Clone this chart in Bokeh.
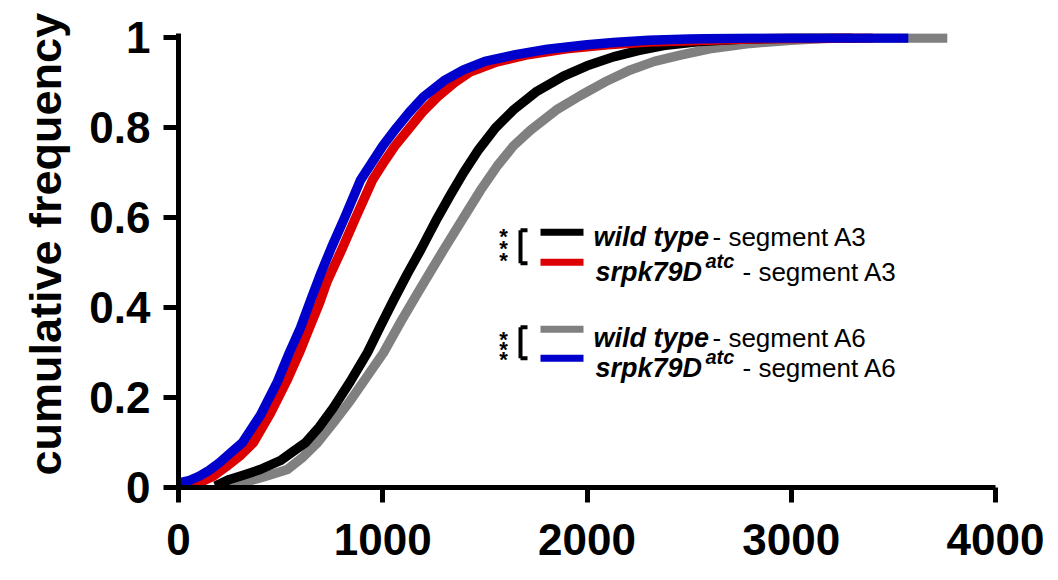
from bokeh.plotting import figure
from bokeh.models import Range1d, FixedTicker, Title
from bokeh.core.properties import value
from bokeh.embed import file_html
from bokeh.resources import INLINE

# ---------------- data ----------------
wt_a3_x = [180, 250, 320, 400, 499, 560, 622, 690, 759, 840, 925, 990, 1052, 1120, 1185, 1268, 1330, 1395,
           1470, 1552, 1640, 1750, 1885, 2000, 2129, 2250, 2374, 2550, 2750, 3000, 3300]
wt_a3_y = [0.003, 0.018, 0.028, 0.04, 0.06, 0.08, 0.10, 0.135, 0.178, 0.235, 0.30, 0.36, 0.416, 0.475, 0.528, 0.60,
           0.65, 0.70, 0.752, 0.80, 0.84, 0.88, 0.915, 0.938, 0.958, 0.972, 0.983, 0.992, 0.997, 1.0, 1.0]

mut_a3_x = [0, 50, 108, 170, 230, 300, 367, 450, 533, 592, 636, 690, 729, 800, 867, 950, 1000, 1060, 1131, 1200,
            1268, 1350, 1430, 1560, 1700, 1900, 2100, 2300, 2800, 3400]
mut_a3_y = [0.003, 0.005, 0.012, 0.025, 0.045, 0.07, 0.10, 0.165, 0.24, 0.30, 0.35, 0.41, 0.46, 0.53, 0.60, 0.684,
            0.72, 0.76, 0.80, 0.838, 0.869, 0.90, 0.925, 0.947, 0.962, 0.976, 0.985, 0.991, 0.998, 1.0]

wt_a6_x = [250, 289, 350, 420, 533, 610, 681, 760, 842, 920, 1004, 1090, 1170, 1240, 1297, 1395, 1478, 1560, 1640,
           1723, 1850, 1968, 2100, 2212, 2330, 2457, 2600, 2800, 3000, 3200, 3764]
wt_a6_y = [0.0, 0.008, 0.015, 0.024, 0.04, 0.068, 0.10, 0.145, 0.194, 0.245, 0.30, 0.37, 0.432, 0.485, 0.528, 0.60,
           0.661, 0.715, 0.76, 0.795, 0.84, 0.872, 0.905, 0.929, 0.948, 0.962, 0.976, 0.988, 0.995, 1.0, 1.0]

mut_a6_x = [0, 50, 100, 150, 200, 250, 313, 400, 484, 543, 597, 650, 700, 750, 813, 891, 950, 1000, 1067, 1130,
            1199, 1300, 1395, 1500, 1650, 1806, 2000, 2129, 2300, 2500, 2800, 3573]
mut_a6_y = [0.01, 0.015, 0.025, 0.038, 0.055, 0.075, 0.10, 0.16, 0.235, 0.30, 0.355, 0.42, 0.48, 0.535, 0.60, 0.684,
            0.725, 0.76, 0.80, 0.835, 0.869, 0.905, 0.929, 0.948, 0.963, 0.975, 0.985, 0.99, 0.995, 0.998, 1.0, 1.0]

x_ticks = [0, 1000, 2000, 3000, 4000]
y_ticks = [0, 0.2, 0.4, 0.6, 0.8, 1]
y_tick_labels = ["0", "0.2", "0.4", "0.6", "0.8", "1"]
y_title = "cumulative frequency"

BLACK = "#000000"
RED = "#DD0000"
GRAY = "#808080"
BLUE = "#0000CC"
FONT = "Liberation Sans"

p = figure(width=1050, height=572, output_backend="svg", toolbar_location=None,
           x_range=Range1d(0, 4000), y_range=Range1d(0, 1.01),
           min_border_left=178, min_border_right=55, min_border_top=33, min_border_bottom=85)
p.outline_line_color = None
p.grid.visible = False
p.background_fill_color = "white"

# curves: gray, black, red, blue (blue on top)
for xs, ys, c in [(wt_a6_x, wt_a6_y, GRAY), (wt_a3_x, wt_a3_y, BLACK),
                  (mut_a3_x, mut_a3_y, RED), (mut_a6_x, mut_a6_y, BLUE)]:
    p.line(xs, ys, line_color=c, line_width=9.5, line_join="round")

# axes
for ax in (p.xaxis[0], p.yaxis[0]):
    ax.axis_line_width = 5
    ax.major_tick_line_width = 5
    ax.major_tick_out = 15
    ax.major_tick_in = 0
    ax.minor_tick_out = 0
    ax.minor_tick_in = 0
    ax.major_label_text_font = FONT
    ax.major_label_text_font_style = "bold"
    ax.major_label_text_font_size = "44px"
    ax.major_label_text_color = "black"

p.xaxis[0].ticker = FixedTicker(ticks=x_ticks)
p.xaxis[0].major_label_standoff = 21
p.yaxis[0].ticker = FixedTicker(ticks=y_ticks)
p.yaxis[0].major_label_overrides = {t: l for t, l in zip(y_ticks, y_tick_labels)}
p.yaxis[0].major_label_standoff = 13

p.add_layout(Title(text=y_title, align="left", offset=12, standoff=32,
                   text_font=FONT, text_font_style="bold", text_font_size="45px",
                   text_color="black"), "left")


# ---------------- legend layout positions in image pixels ----------------
def dx(px):
    return (px - 178) / 0.20425

def dy(py):
    return (487 - py) / 449.0


rows = [
    (232, 237, "wild type", BLACK, 593, 712),
    (262, 272, "srpk79D", RED, 595, 742),
    (329, 338, "wild type", GRAY, 593, 712),
    (358, 368, "srpk79D", BLUE, 595, 742),
]
suffixes = ["- segment A3", "- segment A3", "- segment A6", "- segment A6"]

p.segment(x0=[dx(540)] * 4, x1=[dx(583)] * 4, y0=[dy(r[0]) for r in rows], y1=[dy(r[0]) for r in rows],
          line_color=[r[3] for r in rows], line_width=7)

p.text(x=[dx(r[4]) for r in rows], y=[dy(r[1]) for r in rows], text=[r[2] for r in rows],
       text_font=value(FONT), text_font_size="27px", text_font_style="bold italic",
       text_color="black", text_baseline="alphabetic", text_align="left")
p.text(x=[dx(705), dx(705)], y=[dy(261), dy(357)], text=["atc", "atc"],
       text_font=value(FONT), text_font_size="20px", text_font_style="bold italic",
       text_color="black", text_baseline="alphabetic", text_align="left")
p.text(x=[dx(r[5]) for r in rows], y=[dy(r[1]) for r in rows], text=suffixes,
       text_font=value(FONT), text_font_size="26px", text_font_style="normal",
       text_color="black", text_baseline="alphabetic", text_align="left")

# significance stars and brackets
star_centers = [232, 244, 256, 335, 345, 355]
p.text(x=[dx(503)] * 6, y=[dy(c + 4) for c in star_centers], text=["*"] * 6,
       text_font=value(FONT), text_font_size="22px", text_font_style="bold",
       text_color="black", text_baseline="alphabetic", text_align="center")
brackets = [(230, 263), (327, 358)]
for top, bot in brackets:
    p.segment(x0=[dx(520), dx(520), dx(520)], x1=[dx(520), dx(527), dx(527)],
              y0=[dy(top), dy(top), dy(bot)], y1=[dy(bot), dy(top), dy(bot)],
              line_color="black", line_width=4)

open("out.html", "w").write(file_html(p, INLINE))
